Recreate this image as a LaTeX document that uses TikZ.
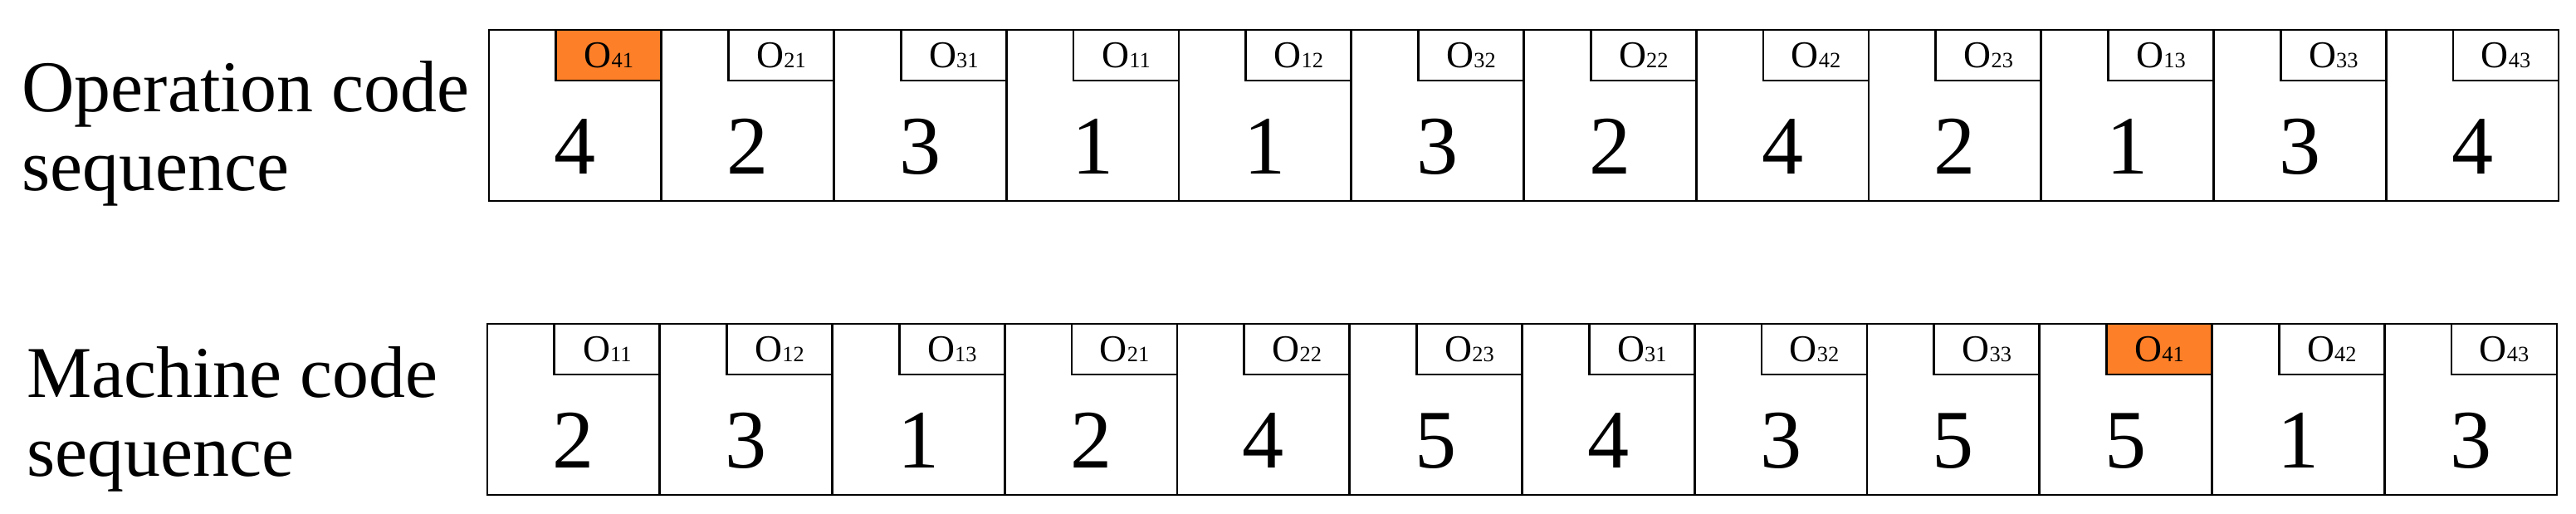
\documentclass[tikz,border=0pt]{standalone}
\usepackage{fontspec}
\setmainfont{Liberation Serif}
\usetikzlibrary{positioning}
\definecolor{tagorange}{HTML}{FD7F28}
\newcommand{\opn}[1]{O{\fontsize{7.5}{8}\selectfont #1}}

\begin{document}
\begin{tikzpicture}[line width=0.8pt, node distance=0pt]
  \tikzstyle{cell}=[draw, rectangle, inner sep=0pt, outer sep=0pt, minimum width=2.0775cm, minimum height=2.06cm, text height=1.42cm, font=\fontsize{28.5}{30}\selectfont]
  \tikzstyle{tag}=[draw, fill=white, rectangle, inner sep=0pt, outer sep=0pt, minimum width=1.27cm, minimum height=0.61cm, anchor=north east, font=\fontsize{13}{14}\selectfont]
  \tikzstyle{hot}=[tag, fill=tagorange]
  \tikzstyle{title}=[anchor=north west, align=left, inner sep=0pt, font=\fontsize{25}{27.2}\selectfont]
  \useasboundingbox (0,0) rectangle (31.03,6.19);

  \node[title] (optitle) at (0.25,5.47) {Operation code\\sequence};
  \node[title] (matitle) at (0.31,2.03) {Machine code\\sequence};

  \node[cell] (o1) at (6.92875,4.80) {4}; \node[hot] (o1t) at (o1.north east) {\opn{41}};
  \node[cell] (o2) [right=of o1] {2}; \node[tag] (o2t) at (o2.north east) {\opn{21}};
  \node[cell] (o3) [right=of o2] {3}; \node[tag] (o3t) at (o3.north east) {\opn{31}};
  \node[cell] (o4) [right=of o3] {1}; \node[tag] (o4t) at (o4.north east) {\opn{11}};
  \node[cell] (o5) [right=of o4] {1}; \node[tag] (o5t) at (o5.north east) {\opn{12}};
  \node[cell] (o6) [right=of o5] {3}; \node[tag] (o6t) at (o6.north east) {\opn{32}};
  \node[cell] (o7) [right=of o6] {2}; \node[tag] (o7t) at (o7.north east) {\opn{22}};
  \node[cell] (o8) [right=of o7] {4}; \node[tag] (o8t) at (o8.north east) {\opn{42}};
  \node[cell] (o9) [right=of o8] {2}; \node[tag] (o9t) at (o9.north east) {\opn{23}};
  \node[cell] (o10) [right=of o9] {1}; \node[tag] (o10t) at (o10.north east) {\opn{13}};
  \node[cell] (o11) [right=of o10] {3}; \node[tag] (o11t) at (o11.north east) {\opn{33}};
  \node[cell] (o12) [right=of o11] {4}; \node[tag] (o12t) at (o12.north east) {\opn{43}};

  \node[cell] (m1) at (6.90875,1.26) {2}; \node[tag] (m1t) at (m1.north east) {\opn{11}};
  \node[cell] (m2) [right=of m1] {3}; \node[tag] (m2t) at (m2.north east) {\opn{12}};
  \node[cell] (m3) [right=of m2] {1}; \node[tag] (m3t) at (m3.north east) {\opn{13}};
  \node[cell] (m4) [right=of m3] {2}; \node[tag] (m4t) at (m4.north east) {\opn{21}};
  \node[cell] (m5) [right=of m4] {4}; \node[tag] (m5t) at (m5.north east) {\opn{22}};
  \node[cell] (m6) [right=of m5] {5}; \node[tag] (m6t) at (m6.north east) {\opn{23}};
  \node[cell] (m7) [right=of m6] {4}; \node[tag] (m7t) at (m7.north east) {\opn{31}};
  \node[cell] (m8) [right=of m7] {3}; \node[tag] (m8t) at (m8.north east) {\opn{32}};
  \node[cell] (m9) [right=of m8] {5}; \node[tag] (m9t) at (m9.north east) {\opn{33}};
  \node[cell] (m10) [right=of m9] {5}; \node[hot] (m10t) at (m10.north east) {\opn{41}};
  \node[cell] (m11) [right=of m10] {1}; \node[tag] (m11t) at (m11.north east) {\opn{42}};
  \node[cell] (m12) [right=of m11] {3}; \node[tag] (m12t) at (m12.north east) {\opn{43}};
\end{tikzpicture}
\end{document}
